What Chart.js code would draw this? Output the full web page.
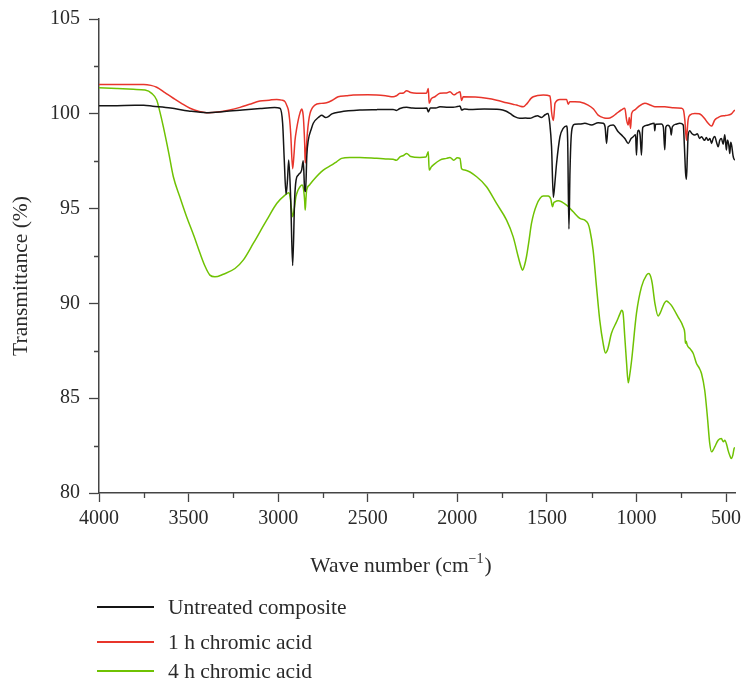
<!DOCTYPE html>
<html><head><meta charset="utf-8">
<script src="https://cdn.jsdelivr.net/npm/chart.js@4.4.0/dist/chart.umd.min.js"></script>
<style>
html,body{margin:0;padding:0;background:#fff;}
#wrap{position:relative;width:743px;height:678px;overflow:hidden;}
canvas{position:absolute;left:0;top:0;}
.leg{position:absolute;left:97px;height:30px;display:flex;align-items:center;font-family:"Liberation Serif",serif;font-size:21.5px;color:#2a2a2a;white-space:nowrap;}
.leg .l{display:inline-block;width:57px;height:1.5px;margin-right:14px;}
</style></head>
<body><div id="wrap"><canvas id="c" width="743" height="678"></canvas><div id="legend"></div></div>
<script>
// ---- data (wavenumber cm^-1, transmittance %) ----
const seriesNames = ["Untreated composite", "1 h chromic acid", "4 h chromic acid"];
const seriesColors = ["#151515", "#e8352b", "#6fc203"];

const wnUntreated = [4000,3900,3800,3750,3700,3600,3500,3400,3300,3200,3100,3020,2990,2975,2966,2956,2948,2941,2930,2919,2908,2900,2888,2869,2860,2852,2847,2840,2832,2815,2804,2770,2757,2735,2720,2700,2655,2544,2450,2358,2340,2320,2283,2250,2209,2170,2162,2150,2120,2097,2060,2023,2000,1985,1976,1960,1930,1850,1762,1730,1706,1680,1651,1620,1595,1570,1553,1530,1510,1493,1484,1474,1464,1455,1446,1427,1409,1390,1384,1377,1371,1365,1357,1344,1316,1288,1251,1214,1186,1175,1167,1158,1130,1102,1080,1065,1046,1030,1018,1005,1000,994,989,980,972,966,963,935,901,898,893,861,850,842,836,825,810,806,800,780,758,739,732,726,721,716,712,703,690,674,660,648,637,620,610,600,590,581,572,563,553,544,535,526,516,507,498,493,489,484,479,474,468,461,455,450];
const tUntreated = [100.42,100.43,100.45,100.45,100.4,100.3,100.15,100.06,100.12,100.2,100.28,100.33,100.29,99.5,97.6,95.75,96.5,97.56,95.5,92.0,95.5,96.5,96.77,97.03,97.52,96.0,95.9,97.8,98.6,99.2,99.5,99.85,99.93,99.8,99.85,100.0,100.1,100.2,100.22,100.23,100.18,100.28,100.34,100.3,100.29,100.3,100.1,100.3,100.3,100.37,100.35,100.34,100.38,100.41,100.2,100.25,100.23,100.25,100.23,100.15,100.02,99.85,99.76,99.78,99.76,99.85,99.9,99.8,99.95,100.02,99.5,98.26,95.6,96.4,97.38,98.79,99.23,99.35,98.6,93.93,97.0,98.7,99.32,99.45,99.46,99.5,99.41,99.53,99.5,99.3,98.44,99.32,99.41,99.05,98.85,98.7,98.44,98.7,98.79,98.9,97.82,99.0,99.13,98.9,97.82,99.2,99.3,99.41,99.5,99.1,99.45,99.46,99.3,98.1,99.3,99.4,99.2,98.88,99.3,99.45,99.5,99.41,98.2,96.9,96.55,97.8,98.79,99.1,98.95,98.88,98.95,98.7,98.79,98.6,98.75,98.6,98.7,98.44,98.7,98.8,98.5,98.26,98.6,98.7,98.4,98.9,98.09,98.6,98.55,98.3,97.9,98.5,98.3,97.8,97.6,97.56];

const wn1h = [4000,3900,3800,3750,3710,3678,3630,3585,3540,3492,3440,3399,3325,3270,3213,3160,3102,3050,3008,2980,2962,2950,2943,2936,2930,2919,2912,2906,2897,2888,2878,2869,2864,2860,2856,2852,2849,2844,2837,2830,2822,2810,2795,2760,2730,2700,2665,2620,2581,2500,2450,2400,2358,2340,2320,2300,2283,2260,2227,2209,2172,2162,2157,2145,2125,2097,2060,2041,2020,2000,1985,1976,1967,1900,1837,1780,1725,1690,1669,1650,1632,1610,1590,1576,1520,1483,1478,1474,1464,1458,1455,1427,1390,1381,1372,1344,1316,1270,1240,1214,1180,1158,1130,1111,1085,1065,1055,1046,1040,1033,1027,1010,990,953,920,897,842,800,749,738,730,721,716,712,702,674,650,637,620,600,581,563,545,526,507,489,470,455,450];
const t1h = [101.55,101.55,101.55,101.55,101.5,101.4,101.1,100.82,100.55,100.29,100.12,100.06,100.11,100.2,100.34,100.5,100.67,100.72,100.76,100.72,100.64,100.4,100.2,99.7,98.97,97.1,97.8,98.6,99.2,99.67,100.05,100.25,100.15,99.9,99.3,98.44,97.4,98.0,98.97,99.6,100.02,100.3,100.46,100.55,100.58,100.7,100.9,100.95,100.99,101.0,100.99,100.95,100.9,100.95,101.08,101.1,101.22,101.12,101.08,101.08,101.08,101.34,100.55,100.8,100.9,101.08,101.1,101.16,101.0,101.1,101.16,100.7,100.9,100.88,100.82,100.72,100.58,100.5,100.46,100.4,100.37,100.55,100.8,100.9,100.99,100.94,100.6,100.11,99.65,100.2,100.55,100.76,100.76,100.5,100.64,100.64,100.62,100.46,100.25,99.93,99.78,99.76,99.88,100.02,100.2,100.29,99.67,99.41,99.8,99.23,100.02,100.2,100.37,100.55,100.45,100.37,100.37,100.32,100.29,100.2,99.67,98.6,99.2,99.67,99.93,100.02,100.0,99.93,99.75,99.5,99.35,99.67,99.8,99.88,99.9,99.93,100.0,100.16,100.2];

const wn4h = [4000,3900,3808,3743,3706,3678,3660,3641,3610,3585,3550,3511,3470,3436,3410,3381,3353,3306,3241,3195,3139,3100,3064,3008,2962,2941,2933,2926,2919,2910,2901,2890,2878,2867,2858,2852,2849,2845,2841,2825,2804,2748,2700,2674,2646,2600,2544,2450,2400,2358,2340,2320,2300,2283,2260,2209,2175,2162,2157,2145,2134,2097,2060,2041,2020,2000,1985,1976,1958,1892,1837,1781,1725,1688,1660,1645,1636,1625,1614,1600,1586,1558,1520,1493,1478,1469,1462,1455,1437,1390,1353,1316,1288,1270,1260,1242,1223,1205,1186,1173,1160,1140,1111,1090,1083,1075,1065,1055,1046,1038,1027,1000,972,944,931,920,912,897,879,870,861,845,833,820,806,768,739,730,727,722,717,700,683,665,650,637,619,604,591,581,570,563,544,526,515,507,495,489,478,471,462,455,450];
const t4h = [101.38,101.33,101.29,101.25,101.08,100.73,100.1,99.32,97.9,96.68,95.65,94.57,93.55,92.64,92.0,91.49,91.4,91.54,91.84,92.28,93.16,93.8,94.39,95.27,95.71,95.84,95.6,95.0,94.57,95.0,95.62,95.95,96.15,96.24,96.0,95.4,94.92,95.5,95.97,96.25,96.5,97.03,97.3,97.47,97.65,97.7,97.7,97.65,97.62,97.6,97.55,97.73,97.8,97.91,97.75,97.7,97.72,98.0,97.03,97.2,97.3,97.56,97.65,97.7,97.55,97.68,97.65,97.1,97.03,96.68,96.15,95.27,94.39,93.51,92.46,91.95,91.75,92.0,92.46,93.3,94.22,95.18,95.66,95.66,95.5,95.1,95.3,95.36,95.41,95.18,94.83,94.48,94.39,94.2,93.87,92.81,90.87,89.12,87.89,87.39,87.6,88.41,89.03,89.5,89.64,89.5,88.2,86.83,85.81,86.2,87.0,89.47,90.87,91.49,91.58,91.4,91.05,90.0,89.33,89.45,89.64,90.0,90.13,90.05,89.91,89.29,88.76,88.41,87.9,88.0,87.8,87.6,87.36,86.83,86.6,86.3,85.42,84.01,82.61,82.17,82.3,82.43,82.78,82.87,82.7,82.78,82.5,82.26,81.95,81.82,82.0,82.35,82.4];

const xTicks = [4000,3500,3000,2500,2000,1500,1000,500];
const yTicks = [80,85,90,95,100,105];
const xMinorTicks = [3750,3250,2750,2250,1750,1250,750];
const yMinorTicks = [82.5,87.5,92.5,97.5,102.5];

// ---- styling ----
const FONT = '"Liberation Serif", "Times New Roman", serif';
const AXIS = '#444';
const TXT = '#2a2a2a';

function pts(xs, ys){ return xs.map((x,i)=>({x:x, y:ys[i]})); }
const allX = [wnUntreated, wn1h, wn4h];
const allY = [tUntreated, t1h, t4h];

const datasets = seriesNames.map((n,i)=>({
  label:n, data:pts(allX[i], allY[i]), borderColor:seriesColors[i], backgroundColor:seriesColors[i],
  borderWidth:1.5, pointRadius:0, fill:false, cubicInterpolationMode:'monotone'
}));

const deco = {
  id:'deco',
  afterDraw(chart){
    const ctx = chart.ctx, xs = chart.scales.x, ys = chart.scales.y;
    ctx.save();
    ctx.strokeStyle = AXIS; ctx.lineWidth = 1.3;
    ctx.beginPath();
    xMinorTicks.forEach(v=>{ const p = Math.round(xs.getPixelForValue(v))+0.5; ctx.moveTo(p, xs.top); ctx.lineTo(p, xs.top+5); });
    yMinorTicks.forEach(v=>{ const p = Math.round(ys.getPixelForValue(v))+0.5; ctx.moveTo(ys.right, p); ctx.lineTo(ys.right-5, p); });
    ctx.stroke();
    // x title with superscript
    ctx.fillStyle = TXT;
    ctx.textBaseline = 'alphabetic'; ctx.textAlign = 'left';
    const f1 = '21.5px ' + FONT, f2 = '14px ' + FONT;
    const a = 'Wave number (cm', b = '\u22121', c = ')';
    ctx.font = f1; const wa = ctx.measureText(a).width, wc = ctx.measureText(c).width;
    ctx.font = f2; const wb = ctx.measureText(b).width;
    let x0 = 401 - (wa+wb+wc+1)/2; const yb = 572;
    ctx.font = f1; ctx.fillText(a, x0, yb); x0 += wa;
    ctx.font = f2; ctx.fillText(b, x0, yb-9); x0 += wb + 1;
    ctx.font = f1; ctx.fillText(c, x0, yb);
    // y title
    ctx.translate(27, 276); ctx.rotate(-Math.PI/2);
    ctx.textAlign = 'center'; ctx.font = f1;
    ctx.fillText('Transmittance (%)', 0, 0);
    ctx.restore();
  }
};

new Chart(document.getElementById('c'), {
  type:'line',
  data:{datasets:datasets},
  options:{
    responsive:false, animation:false, devicePixelRatio:1,
    layout:{padding:{left:0,right:8,top:19,bottom:145}},
    plugins:{legend:{display:false}, tooltip:{enabled:false}},
    scales:{
      x:{type:'linear', reverse:true, min:450, max:4000,
        afterBuildTicks(s){ s.ticks = xTicks.map(v=>({value:v})); },
        ticks:{autoSkip:false, maxRotation:0, padding:5, color:TXT, font:{family:FONT,size:20}, callback:v=>String(v)},
        grid:{drawOnChartArea:false, drawTicks:true, tickLength:9, tickColor:AXIS, tickWidth:1.3},
        border:{display:true, color:AXIS, width:1.5},
        afterFit(s){ s.height = 40; s.paddingLeft = 0; s.paddingRight = 0; }
      },
      y:{type:'linear', min:80, max:105,
        afterBuildTicks(s){ s.ticks = yTicks.map(v=>({value:v})); },
        ticks:{padding:9, color:TXT, font:{family:FONT,size:20}, callback:v=>String(v)},
        grid:{drawOnChartArea:false, drawTicks:true, tickLength:10, tickColor:AXIS, tickWidth:1.3},
        border:{display:true, color:AXIS, width:1.5},
        afterFit(s){ s.width = 99; s.paddingTop = 0; s.paddingBottom = 0; }
      }
    }
  },
  plugins:[deco]
});

// legend
const legY = [607, 642, 671];
const legDiv = document.getElementById('legend');
seriesNames.forEach((n,i)=>{
  const d = document.createElement('div');
  d.className = 'leg'; d.style.top = (legY[i]-15)+'px';
  d.innerHTML = '<span class="l" style="background:'+seriesColors[i]+'"></span><span>'+n+'</span>';
  legDiv.appendChild(d);
});
</script>
</body></html>
